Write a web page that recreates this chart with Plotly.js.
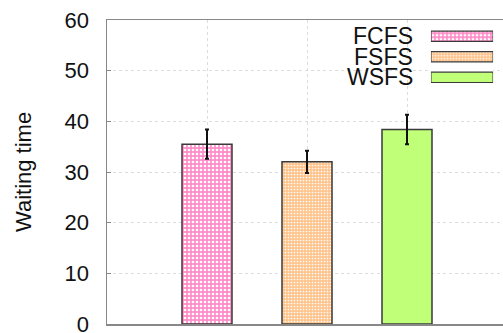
<!DOCTYPE html>
<html>
<head>
<meta charset="utf-8">
<script src="https://cdn.plot.ly/plotly-3.0.1.min.js"></script>
<style>html,body{margin:0;padding:0;background:#fff;overflow:hidden}</style>
</head>
<body>
<div id="chart" style="width:503px;height:333px"></div>
<script>
const categories = ["FCFS", "FSFS", "WSFS"];
const positions = [1, 2, 3];
const waitingTime = [35.5, 32.0, 38.4];
const errors = [2.9, 2.2, 2.9];
const yTicks = [0, 10, 20, 30, 40, 50, 60];
const legendValues = [1, 1, 1];

const patterns = [
  {shape: ".", bgcolor: "#ff8cc8", fgcolor: "#ffffff", size: 4, solidity: 0.35},
  {shape: ".", bgcolor: "#ffc48c", fgcolor: "#ffffff", size: 3, solidity: 0.25},
  {shape: "", bgcolor: "#c0ff78", fgcolor: "#c0ff78", size: 4, solidity: 0.3}
];
const colors = ["#ff8cc8", "#ffc48c", "#c0ff78"];

const traces = [];
categories.forEach((c, i) => {
  traces.push({
    type: "bar",
    x: [positions[i]],
    y: [waitingTime[i]],
    width: 0.5,
    name: c,
    showlegend: false,
    marker: {color: colors[i], pattern: patterns[i], line: {color: "#3a3a3a", width: 1.5}},
    error_y: {type: "data", array: [errors[i]], visible: true, color: "#111", thickness: 2, width: 2}
  });
});
// legend swatches drawn as bars on a small overlay axis
categories.forEach((c, i) => {
  traces.push({
    type: "bar",
    orientation: "h",
    x: [legendValues[i]],
    y: [c],
    width: 0.5,
    xaxis: "x2",
    yaxis: "y2",
    showlegend: false,
    hoverinfo: "skip",
    marker: {color: colors[i], pattern: patterns[i], line: {color: "#3a3a3a", width: 1.2}}
  });
});

const font = {family: "Liberation Sans, Arial, sans-serif", size: 22, color: "#111"};
const legendFont = {family: "Liberation Sans, Arial, sans-serif", size: 23, color: "#111"};
const annotations = categories.map((c, i) => ({
  xref: "paper", yref: "y2", x: 0.779, y: c,
  xanchor: "right", yanchor: "middle", text: c, showarrow: false, font: legendFont
}));
annotations.push({
  xref: "paper", yref: "paper", x: -0.212, y: 0.5, xanchor: "center", yanchor: "middle",
  text: "Waiting time", textangle: -90, showarrow: false, font: font
});

const layout = {
  width: 503, height: 333,
  margin: {l: 107, r: 0, t: 20, b: 9, pad: 0},
  paper_bgcolor: "#fff", plot_bgcolor: "#fff",
  font: font,
  showlegend: false,
  xaxis: {
    range: [0, 3.96], tickvals: positions, showticklabels: false,
    showgrid: true, gridcolor: "#dcdcdc", griddash: "dot", gridwidth: 1,
    showline: true, linecolor: "#888", linewidth: 1.5, mirror: true,
    zeroline: false, ticks: "", fixedrange: true
  },
  yaxis: {
    range: [0, 60], tickvals: yTicks, ticktext: yTicks.map(String),
    showgrid: true, gridcolor: "#dcdcdc", griddash: "dot", gridwidth: 1,
    showline: true, linecolor: "#888", linewidth: 1.5, mirror: false,
    ticks: "inside", ticklen: 4, tickcolor: "#888", ticklabelstandoff: 12,
    ticklabeloverflow: "allow",
    zeroline: false, tickfont: font, fixedrange: true
  },
  xaxis2: {domain: [0.818, 0.975], range: [0, 1], visible: false, anchor: "y2", fixedrange: true},
  yaxis2: {domain: [0.762, 0.996], autorange: "reversed", type: "category", visible: false, anchor: "x2", fixedrange: true},
  annotations: annotations,
  bargap: 0
};

Plotly.newPlot("chart", traces, layout, {displayModeBar: false, staticPlot: true});
</script>
</body>
</html>
